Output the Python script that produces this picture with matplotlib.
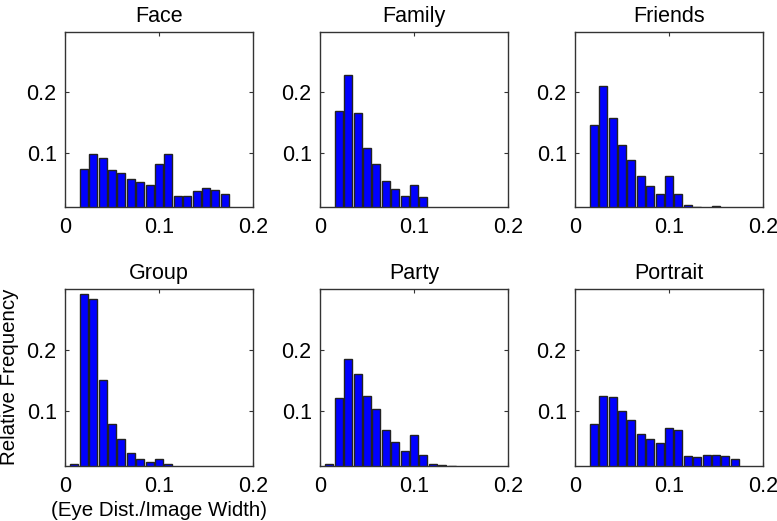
import matplotlib
matplotlib.use("Agg")
import matplotlib.pyplot as plt
import numpy as np

plt.rcParams['font.family'] = ['Liberation Sans', 'DejaVu Sans']

titles = ["Face", "Family", "Friends", "Group", "Party", "Portrait"]

# bin centres (eye distance / image width)
bins = [0.01, 0.02, 0.03, 0.04, 0.05, 0.06, 0.07, 0.08, 0.09,
        0.10, 0.11, 0.12, 0.13, 0.14, 0.15, 0.16, 0.17]

face = [0.0, 0.073, 0.097, 0.092, 0.072, 0.066, 0.056, 0.052, 0.047,
        0.082, 0.097, 0.029, 0.028, 0.036, 0.041, 0.038, 0.031]
family = [0.0, 0.169, 0.229, 0.166, 0.107, 0.082, 0.053, 0.039, 0.029,
          0.046, 0.027, 0.0, 0.0, 0.0, 0.0, 0.0, 0.0]
friends = [0.0, 0.146, 0.210, 0.158, 0.112, 0.088, 0.062, 0.045, 0.032,
           0.061, 0.031, 0.013, 0.0105, 0.0, 0.0115, 0.0, 0.0]
group = [0.013, 0.291, 0.283, 0.151, 0.079, 0.054, 0.032, 0.021, 0.017,
         0.021, 0.013, 0.0, 0.0, 0.0, 0.0, 0.0, 0.0]
party = [0.013, 0.122, 0.185, 0.160, 0.125, 0.104, 0.069, 0.050, 0.035,
         0.061, 0.028, 0.0137, 0.0115, 0.0105, 0.0, 0.0, 0.0]
portrait = [0.0, 0.078, 0.124, 0.1225, 0.1005, 0.085, 0.063, 0.055, 0.048,
            0.0725, 0.069, 0.026, 0.025, 0.028, 0.0275, 0.026, 0.022]

series = [face, family, friends, group, party, portrait]

xticks = [0, 0.1, 0.2]
xticklabels = ["0", "0.1", "0.2"]
yticks = [0.1, 0.2]
yticklabels = ["0.1", "0.2"]

W, H = 777, 521
fig = plt.figure(figsize=(W / 100, H / 100), dpi=100)

col_left = [65, 320, 575]
ax_w = 188
rows = [(32, 207), (289, 466)]
FS = 15.5
LFS = 14.8

axes = []
for i, (title, vals) in enumerate(zip(titles, series)):
    r, c = divmod(i, 3)
    top, bot = rows[r]
    ax = fig.add_axes([col_left[c] / W, 1 - bot / H, ax_w / W, (bot - top) / H])
    x = np.array(bins)
    v = np.array(vals)
    mask = v > 0
    ax.bar(x[mask], v[mask], width=0.0083, bottom=0, color="#0000ff",
           edgecolor="#222222", linewidth=1.0, zorder=2)
    ax.set_xlim(0, 0.2)
    ax.set_ylim(0.01, 0.3)
    ax.set_xticks(xticks)
    ax.set_xticklabels(xticklabels)
    ax.set_yticks(yticks)
    ax.set_yticklabels(yticklabels)
    ax.tick_params(direction="in", top=True, right=True, length=3,
                   labelsize=FS, width=0.8, color="#333333")
    ax.tick_params(axis="x", pad=7)
    ax.tick_params(axis="y", pad=6)
    for s in ax.spines.values():
        s.set_color("#333333")
        s.set_linewidth(1.0)
    ax.set_title(title, fontsize=FS, pad=7)
    axes.append(ax)

# y label placed explicitly next to the lower-left panel
fig.text(10 / W, 1 - 377 / H, "Relative Frequency", fontsize=LFS,
         rotation=90, ha="center", va="center")
axes[3].set_xlabel("(Eye Dist./Image Width)", fontsize=LFS, labelpad=3)

fig.savefig("out.png", dpi=100)
